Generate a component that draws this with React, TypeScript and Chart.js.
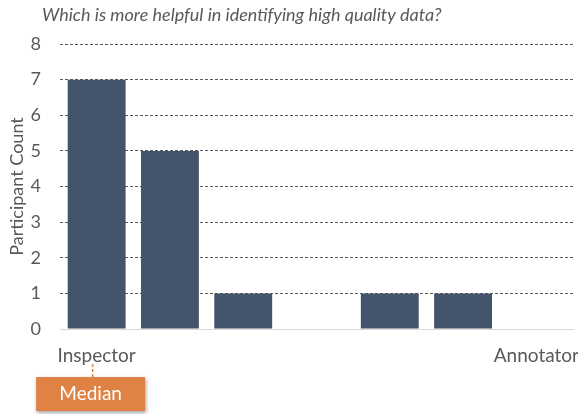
import React, { useEffect, useRef } from "react";
import { Chart, registerables } from "chart.js";

Chart.register(...registerables);

const categories = ["1", "2", "3", "4", "5", "6", "7"];
const tickLabels = ["Inspector", "", "", "", "", "", "Annotator"];
const counts = [7, 5, 1, 0, 1, 1, 0];
const medianIndex = 0;
const medianLabel = "Median";
const titleText = "Which is more helpful in identifying high quality data?";
const yAxisTitle = "Participant Count";
const yMin = 0;
const yMax = 8;

const FONT = "Lato, 'Open Sans', sans-serif";
const TEXT_COLOR = "#595959";
const BAR_COLOR = "#44546A";
const ORANGE = "#DF8244";

const overlayPlugin = {
  id: "overlay",
  afterDraw(chart: any) {
    const ctx = chart.ctx as CanvasRenderingContext2D;
    const area = chart.chartArea;
    ctx.save();
    // title
    ctx.font = `italic 18px ${FONT}`;
    ctx.fillStyle = TEXT_COLOR;
    ctx.textBaseline = "middle";
    ctx.textAlign = "left";
    ctx.fillText(titleText, 42, 15);

    // median marker
    const cx = chart.scales.x.getPixelForValue(medianIndex);
    const bottom = area.bottom;
    ctx.strokeStyle = ORANGE;
    ctx.lineWidth = 1.5;
    ctx.setLineDash([3, 2]);
    ctx.beginPath();
    ctx.moveTo(cx - 4, bottom + 35);
    ctx.lineTo(cx - 4, bottom + 48);
    ctx.stroke();
    ctx.setLineDash([]);

    ctx.save();
    ctx.shadowColor = "rgba(0,0,0,0.35)";
    ctx.shadowBlur = 4;
    ctx.shadowOffsetX = 1;
    ctx.shadowOffsetY = 2;
    ctx.fillStyle = ORANGE;
    ctx.fillRect(cx - 60.5, bottom + 48, 109, 34);
    ctx.restore();

    ctx.fillStyle = "#FFFFFF";
    ctx.font = `19px ${FONT}`;
    ctx.textAlign = "center";
    ctx.textBaseline = "middle";
    ctx.fillText(medianLabel, cx - 6, bottom + 65);
    ctx.restore();
  },
};

export default function App() {
  const canvasRef = useRef<HTMLCanvasElement | null>(null);

  useEffect(() => {
    document.body.style.margin = "0";
    const canvas = canvasRef.current;
    if (!canvas) return;
    const chart = new Chart(canvas, {
      type: "bar",
      data: {
        labels: tickLabels,
        datasets: [
          {
            label: "Participant Count",
            data: counts,
            backgroundColor: BAR_COLOR,
            borderWidth: 0,
            categoryPercentage: 1,
            barPercentage: 0.79,
          },
        ],
      },
      options: {
        responsive: false,
        animation: false,
        devicePixelRatio: 1,
        layout: { padding: { top: 44, right: 5, bottom: 0, left: 0 } },
        plugins: {
          legend: { display: false },
          title: { display: false },
          tooltip: { enabled: false },
        },
        scales: {
          x: {
            grid: { display: false, drawTicks: false },
            border: { display: true, color: "#D9D9D9", width: 1 },
            ticks: {
              color: TEXT_COLOR,
              font: { family: FONT, size: 19 },
              padding: 15,
              autoSkip: false,
              maxRotation: 0,
              minRotation: 0,
            },
            afterFit(scale: any) {
              scale.height = 85;
              scale.paddingLeft = 0;
              scale.paddingRight = 0;
            },
          },
          y: {
            min: yMin,
            max: yMax,
            grid: {
              drawTicks: false,
              color: (ctx: any) => (ctx.index === 0 ? "rgba(0,0,0,0)" : "#595959"),
              lineWidth: 1,
            },
            border: { display: false, dash: [3, 2] },
            ticks: {
              stepSize: 1,
              color: TEXT_COLOR,
              font: { family: FONT, size: 18 },
              padding: 19,
            },
            title: {
              display: true,
              text: yAxisTitle,
              color: TEXT_COLOR,
              font: { family: FONT, size: 18 },
              padding: { top: 6, bottom: 0 },
            },
            afterFit(scale: any) {
              scale.width = 60;
            },
          },
        },
      },
      plugins: [overlayPlugin],
    });
    return () => chart.destroy();
  }, []);

  return (
    <div style={{ width: 578, height: 414 }}>
      <canvas ref={canvasRef} width={578} height={414} />
    </div>
  );
}
